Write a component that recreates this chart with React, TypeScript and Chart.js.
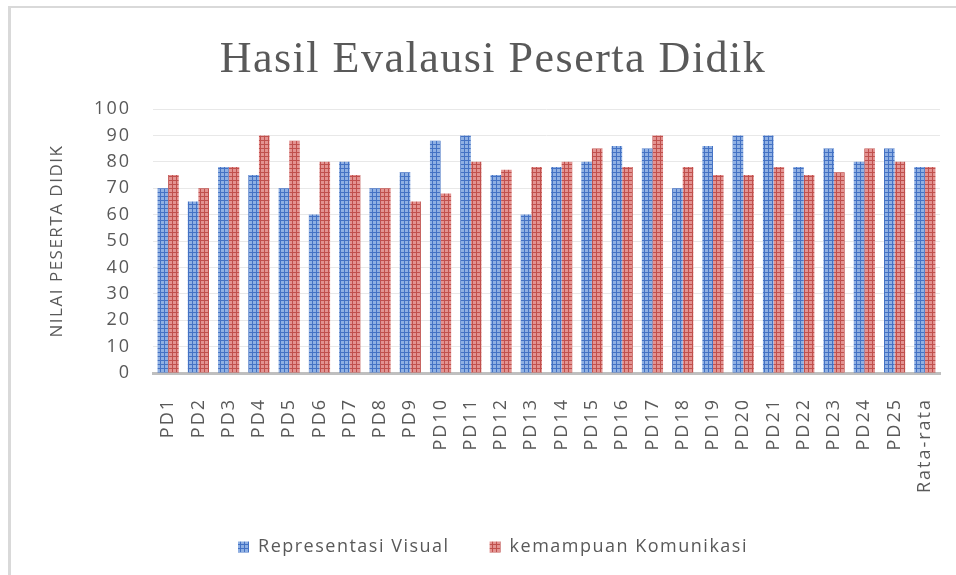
import React, { useEffect, useRef } from "react";
import { Chart, registerables } from "chart.js";

Chart.register(...registerables);

const categories = [
  "PD1", "PD2", "PD3", "PD4", "PD5", "PD6", "PD7", "PD8", "PD9", "PD10",
  "PD11", "PD12", "PD13", "PD14", "PD15", "PD16", "PD17", "PD18", "PD19", "PD20",
  "PD21", "PD22", "PD23", "PD24", "PD25", "Rata-rata",
];
const representasiVisual = [
  70, 65, 78, 75, 70, 60, 80, 70, 76, 88, 90, 75, 60, 78, 80, 86, 85, 70, 86, 90, 90, 78, 85, 80, 85, 78,
];
const kemampuanKomunikasi = [
  75, 70, 78, 90, 88, 80, 75, 70, 65, 68, 80, 77, 78, 80, 85, 78, 90, 78, 75, 75, 78, 75, 76, 85, 80, 78,
];
const yMin = 0;
const yMax = 100;
const yStep = 10;

const TEXT = "#595959";

function makePattern(base: string, line: string): CanvasPattern | string {
  const c = document.createElement("canvas");
  c.width = 4;
  c.height = 4;
  const g = c.getContext("2d");
  if (!g) return base;
  g.fillStyle = base;
  g.fillRect(0, 0, 4, 4);
  g.fillStyle = line;
  g.fillRect(0, 0, 1, 4);
  g.fillRect(0, 0, 4, 1);
  const p = g.createPattern(c, "repeat");
  return p || base;
}

const spacingPlugin = {
  id: "letterSpacing",
  beforeLayout(chart: any) {
    chart.ctx.letterSpacing = "1.5px";
  },
  beforeDraw(chart: any) {
    chart.ctx.letterSpacing = "1.5px";
  },
  afterDatasetsDraw(chart: any) {
    chart.ctx.letterSpacing = "2px";
  },
  afterDraw(chart: any) {
    chart.ctx.letterSpacing = "0px";
  },
};

export default function App() {
  const ref = useRef<HTMLCanvasElement | null>(null);

  useEffect(() => {
    if (!ref.current) return;
    const blue = makePattern("#8fb0e3", "#4472c4");
    const red = makePattern("#e39391", "#c0504d");
    const chart = new Chart(ref.current, {
      type: "bar",
      data: {
        labels: categories,
        datasets: [
          {
            label: "Representasi Visual",
            data: representasiVisual,
            backgroundColor: blue as any,
            borderWidth: 0,
            barPercentage: 1,
            categoryPercentage: 0.7,
          },
          {
            label: "kemampuan Komunikasi",
            data: kemampuanKomunikasi,
            backgroundColor: red as any,
            borderWidth: 0,
            barPercentage: 1,
            categoryPercentage: 0.7,
          },
        ],
      },
      options: {
        responsive: false,
        animation: false,
        layout: { padding: { left: 46, right: 16, top: 0, bottom: 9 } },
        plugins: {
          title: {
            display: true,
            text: "Hasil Evalausi Peserta Didik",
            color: TEXT,
            font: { family: "Liberation Serif", size: 44, weight: "normal" },
            padding: { top: 34, bottom: 22.2 },
          },
          legend: {
            position: "bottom",
            labels: {
              color: TEXT,
              font: { family: "Open Sans", size: 18 },
              boxWidth: 11,
              boxHeight: 11,
              padding: 40,
            },
          },
          tooltip: { enabled: false },
        },
        scales: {
          x: {
            grid: { display: false },
            border: { color: "#bfbfbf", width: 3 },
            ticks: {
              color: TEXT,
              font: { family: "Open Sans", size: 18 },
              minRotation: 90,
              maxRotation: 90,
              autoSkip: false,
              padding: 17,
              z: 1,
            },
            afterFit: (s: any) => {
              s.height = 125;
              s.paddingLeft = 0;
              s.paddingRight = 0;
            },
          },
          y: {
            min: yMin,
            max: yMax,
            ticks: {
              stepSize: yStep,
              color: TEXT,
              font: { family: "Open Sans", size: 18 },
              padding: 22,
              z: 1,
            },
            grid: { color: "#e8e8e8", drawTicks: false },
            border: { display: false },
            title: {
              display: true,
              text: "NILAI PESERTA DIDIK",
              color: TEXT,
              font: { family: "Open Sans", size: 17 },
              padding: { top: 1, bottom: 0 },
            },
            afterFit: (s: any) => {
              s.width = 107;
              s.paddingTop = 0;
              s.paddingBottom = 0;
            },
          },
        },
      },
      plugins: [spacingPlugin],
    });
    return () => chart.destroy();
  }, []);

  return (
    <div
      style={{
        position: "fixed",
        left: 0,
        top: 0,
        width: 956,
        height: 575,
        background: "#ffffff",
        overflow: "hidden",
      }}
    >
      <div
        style={{
          position: "absolute",
          left: 8,
          top: 6,
          width: 980,
          height: 620,
          borderLeft: "3px solid #d9d9d9",
          borderTop: "2px solid #d9d9d9",
        }}
      />
      <canvas
        ref={ref}
        width={956}
        height={575}
        style={{ position: "absolute", left: 0, top: 0, width: 956, height: 575 }}
      />
    </div>
  );
}
